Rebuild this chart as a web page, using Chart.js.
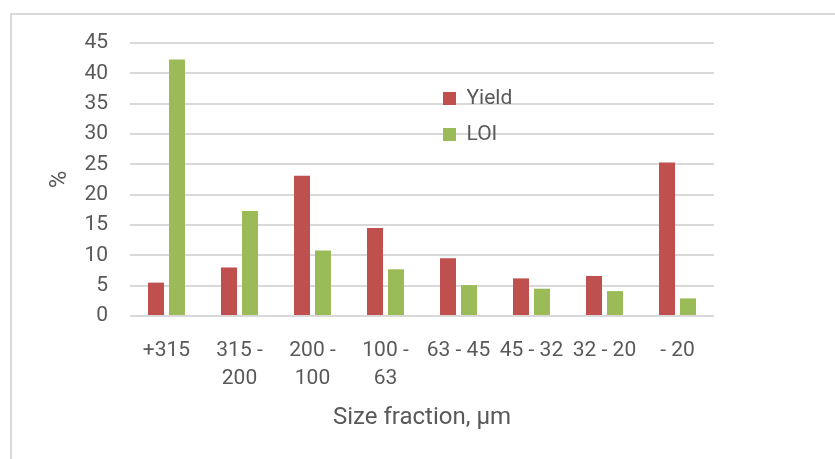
<!DOCTYPE html>
<html>
<head>
<meta charset="utf-8">
<script src="https://cdn.jsdelivr.net/npm/chart.js@4/dist/chart.umd.min.js"></script>
<style>
  html, body { margin: 0; padding: 0; background: #ffffff; }
  #wrap { position: relative; width: 835px; height: 459px; overflow: hidden; background: #fff; }
  #frame { position: absolute; left: 10px; top: 13px; width: 900px; height: 500px; border: 2px solid #D9D9D9; box-sizing: border-box; }
  #c { position: absolute; left: 0; top: 0; }
</style>
</head>
<body>
<div id="wrap">
  <div id="frame"></div>
  <canvas id="c" width="835" height="459"></canvas>
</div>
<script>
const categories = ['+315', ['315 -', '200'], ['200 -', '100'], ['100 -', '63'], '63 - 45', '45 - 32', '32 - 20', '- 20'];
const yieldValues = [5.5, 8.0, 23.1, 14.5, 9.5, 6.2, 6.6, 25.3];
const loiValues = [42.3, 17.3, 10.8, 7.7, 5.1, 4.5, 4.1, 2.9];
const seriesNames = ['Yield', 'LOI'];
const yTitle = '%';
const xTitle = 'Size fraction, \u00b5m';

const FONT = 'Roboto, "Noto Sans", sans-serif';
const TEXT = '#595959';
const LEGEND_PAD = 15;

const legendPlacer = {
  id: 'legendPlacer',
  afterLayout(chart) {
    const lg = chart.legend;
    if (!lg) return;
    const w = lg.width, h = lg.height;
    lg.left = 443 - LEGEND_PAD;
    lg.top = 88 - LEGEND_PAD;
    lg.right = lg.left + w;
    lg.bottom = lg.top + h;
  }
};

new Chart(document.getElementById('c'), {
  type: 'bar',
  data: {
    labels: categories,
    datasets: [
      { label: seriesNames[0], data: yieldValues, backgroundColor: '#C0504D', categoryPercentage: 0.575, barPercentage: 0.762 },
      { label: seriesNames[1], data: loiValues, backgroundColor: '#9BBB59', categoryPercentage: 0.575, barPercentage: 0.762 }
    ]
  },
  options: {
    responsive: false,
    animation: false,
    layout: { padding: { left: 46, right: 121, top: 43, bottom: 27 } },
    plugins: {
      tooltip: { enabled: false },
      legend: {
        position: 'chartArea',
        align: 'start',
        labels: {
          boxWidth: 13, boxHeight: 13, padding: LEGEND_PAD,
          color: TEXT,
          font: { family: FONT, size: 21 }
        }
      }
    },
    scales: {
      x: {
        grid: { display: false, drawTicks: false },
        border: { display: false },
        afterFit(scale) { scale.height = 116; },
        ticks: {
          color: TEXT, padding: 21, maxRotation: 0, autoSkip: false,
          font: { family: FONT, size: 21, lineHeight: 1.33 }
        },
        title: {
          display: true, text: xTitle, color: TEXT,
          font: { family: FONT, size: 24, lineHeight: 1.2 },
          padding: { top: 0, bottom: 0 }
        }
      },
      y: {
        min: 0, max: 45,
        grid: { color: '#D9D9D9', lineWidth: 2, drawTicks: false },
        border: { display: false },
        afterFit(scale) { scale.width = 84; },
        ticks: {
          stepSize: 5, color: TEXT, padding: 22,
          font: { family: FONT, size: 21 }
        },
        title: {
          display: true, text: yTitle, color: TEXT,
          font: { family: FONT, size: 24, lineHeight: 1.2 },
          padding: { top: 0, bottom: 10 }
        }
      }
    }
  },
  plugins: [legendPlacer]
});
</script>
</body>
</html>
